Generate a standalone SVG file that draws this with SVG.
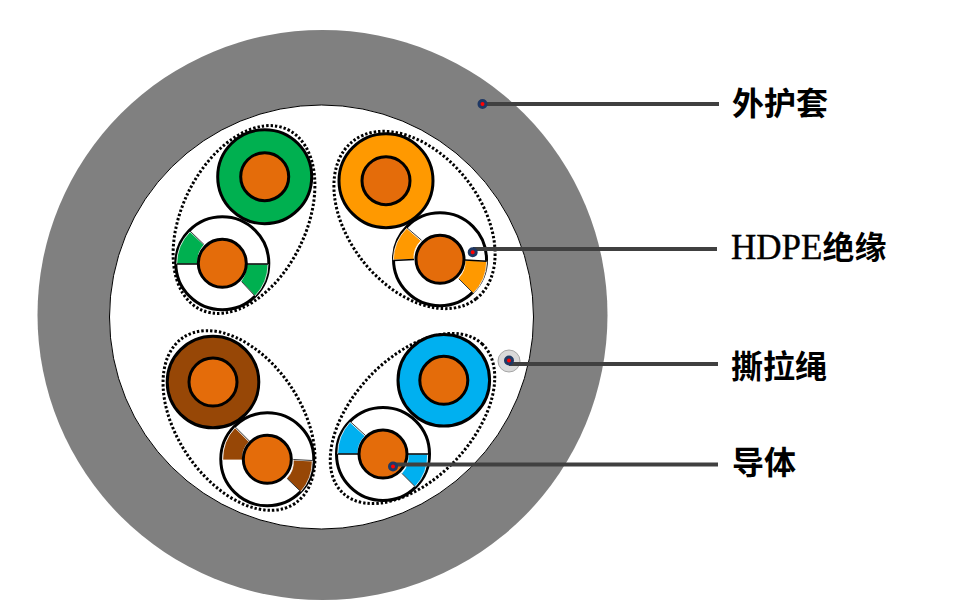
<svg xmlns="http://www.w3.org/2000/svg" width="957" height="613" viewBox="0 0 957 613">
<style>
.core{fill:#e46c0a;stroke:#000;stroke-width:3}
.ring{stroke:#000;stroke-width:3}
.hollow{fill:#fff;stroke:#000;stroke-width:3}
.el{fill:none;stroke:#000;stroke-width:3;stroke-dasharray:2.4 2}
.edge{fill:none;stroke:#404040;stroke-width:4}
.dot{fill:#f00;stroke:#1f3864;stroke-width:3}
.w{stroke:#fff;stroke-width:.8}
.k{fill:none;stroke:#000;stroke-width:1.5}
.d{fill:none;stroke:#222;stroke-width:.9}
.lab{font-family:"Liberation Serif","Noto Sans CJK SC",serif;font-size:32px;font-weight:bold;fill:#000}
.lat{font-size:35px;font-weight:normal;stroke:#000;stroke-width:.4}
</style>
<rect width="957" height="613" fill="#fff"/>
<g id="jacket">
<circle cx="322.500" cy="315" r="285" fill="#808080"/>
<circle cx="321.500" cy="317" r="212" fill="#fff" stroke="#000" stroke-width="1"/>
</g>
<g id="pair-green">
<ellipse class="el" cx="244" cy="219.500" rx="100" ry="62" transform="rotate(-64 244 219.500)"/>
<circle class="hollow" cx="222.300" cy="263.300" r="46.500"/>
<path d="M176.700 264A46 46 0 0 1 190 231.700L204 245A24 24 0 0 0 198 264Z" fill="#00b050" class="w"/>
<path d="M246 264H268A46 46 0 0 1 255 296L241 281A24 24 0 0 0 246 264Z" fill="#00b050" class="w"/>
<path class="k" d="M176.700 264H198M246 264H268"/>
<path class="d" d="M190 231L204 244.500M255.500 296.500L241.500 281.500"/>
<circle class="ring" cx="264.700" cy="176.700" r="47" fill="#00b050"/>
<circle class="core" cx="264.700" cy="176.700" r="24"/>
<circle class="core" cx="222.300" cy="263.300" r="24"/>
</g>
<g id="pair-orange">
<ellipse class="el" cx="414.500" cy="220" rx="100" ry="66" transform="rotate(52 414.500 220)"/>
<circle class="hollow" cx="440" cy="259.300" r="46.500"/>
<path d="M393.300 260A46 46 0 0 1 406.700 228.300L421 240.700A24 24 0 0 0 414 259.500Z" fill="#ff9900" class="w"/>
<path d="M465 260L486.700 261.300A46 46 0 0 1 473.300 293.300L458.300 278.300A24 24 0 0 0 465 260Z" fill="#ff9900" class="w"/>
<path class="k" d="M393.300 260.500L414 259.500M465 260L486.700 261.300"/>
<path class="d" d="M407 227.800L421.500 240.200M473.800 293.800L458.800 278.800"/>
<circle class="ring" cx="386" cy="180.700" r="47" fill="#ff9900"/>
<circle class="core" cx="386" cy="180.700" r="24"/>
<circle class="core" cx="440" cy="259.300" r="24"/>
</g>
<g id="pair-brown">
<ellipse class="el" cx="239" cy="420.500" rx="100" ry="62" transform="rotate(56 239 420.500)"/>
<circle class="hollow" cx="267.300" cy="459.300" r="46.500"/>
<path d="M222.700 460A46 46 0 0 1 235 427.700L249 441.700A24 24 0 0 0 242.500 460Z" fill="#974706" class="w"/>
<path d="M293.300 460L312.300 461A46 46 0 0 1 300.700 491.700L286.700 478.300A24 24 0 0 0 293.300 460Z" fill="#974706" class="w"/>
<path class="d" d="M235.500 427.200L249.500 441.200M293.300 459.500L312.300 460.500M301.200 492L287.200 478.500"/>
<circle class="ring" cx="213" cy="382" r="45.800" fill="#974706"/>
<circle class="core" cx="213" cy="382" r="24"/>
<circle class="core" cx="267.300" cy="459.300" r="24"/>
</g>
<g id="pair-blue">
<ellipse class="el" cx="412.500" cy="418.500" rx="102" ry="60" transform="rotate(-47 412.500 418.500)"/>
<circle class="hollow" cx="383" cy="454" r="46.500"/>
<path d="M337.700 454A46 46 0 0 1 350 422.300L365 436A24 24 0 0 0 358 454Z" fill="#00b0f0" class="w"/>
<path d="M408 454H427.700A46 46 0 0 1 415 486.700L401.700 473.300A24 24 0 0 0 408 454Z" fill="#00b0f0" class="w"/>
<path class="k" d="M337.700 454H358M408 454H428.500"/>
<path class="d" d="M350.500 421.800L365.500 435.500M415.500 487L402 473.500"/>
<circle class="ring" cx="443.800" cy="380.300" r="45.800" fill="#00b0f0"/>
<circle class="core" cx="443.800" cy="380.300" r="24"/>
<circle class="core" cx="383" cy="454" r="24"/>
</g>
<g id="ripcord"><circle cx="509" cy="361" r="11" fill="#d9d9d9" stroke="#a6a6a6" stroke-width="1"/></g>
<g id="connectors">
<path class="edge" d="M482 104H719M473 249H717M509 364H718M393 464.500H718"/>
<circle class="dot" cx="482.500" cy="104" r="3.500"/>
<circle class="dot" cx="472.700" cy="252.300" r="3.500"/>
<circle class="dot" cx="509" cy="360.500" r="3.500"/>
<circle class="dot" cx="393" cy="466.500" r="3.500"/>
</g>
<g id="label-1"><text class="lab" x="732" y="115">外护套</text></g>
<g id="label-2"><text class="lab" x="731" y="258.500"><tspan class="lat">HDPE</tspan>绝缘</text></g>
<g id="label-3"><text class="lab" x="731" y="378">撕拉绳</text></g>
<g id="label-4"><text class="lab" x="732" y="474">导体</text></g>
</svg>
